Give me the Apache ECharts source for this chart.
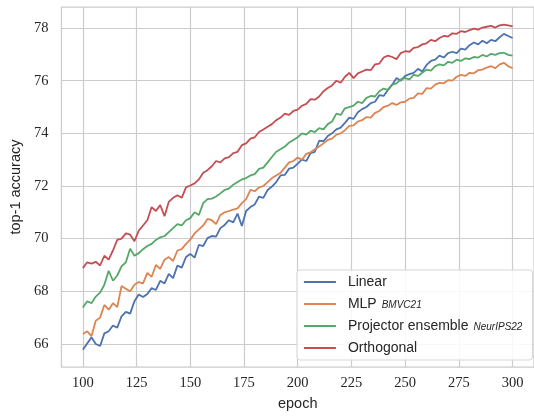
<!DOCTYPE html>
<html>
<head>
<meta charset="utf-8">
<script src="https://cdn.jsdelivr.net/npm/echarts@6/dist/echarts.min.js"></script>
<style>
    html, body { margin: 0; padding: 0; background: #fff; }
    #main { width: 534px; height: 416px; }
</style>
</head>
<body>
<div id="main"></div>
<script>
// epochs 100..300, every 2nd epoch
var epochs = [];
for (var e = 100; e <= 300; e += 2) epochs.push(e);

var xTicks = [100, 125, 150, 175, 200, 225, 250, 275, 300];
var yTicks = [66, 68, 70, 72, 74, 76, 78];

var seriesNames = ['Linear', 'MLP', 'Projector ensemble', 'Orthogonal'];
var seriesTags = ['', 'BMVC21', 'NeurIPS22', ''];
var seriesColors = ['#4C72B0', '#DD8452', '#55A868', '#C44E52'];

var linear = [
    65.78, 66.02, 66.25, 66.00, 65.92, 66.40, 66.48, 66.70, 66.62, 67.05,
    67.22, 67.15, 67.62, 67.88, 67.78, 67.90, 68.12, 68.05, 68.40, 68.30,
    68.66, 68.50, 68.98, 68.90, 69.30, 69.42, 69.28, 69.76, 69.72, 70.02,
    70.10, 70.08, 70.40, 70.52, 70.70, 70.62, 70.95, 70.48, 71.05, 71.20,
    71.30, 71.60, 71.55, 71.85, 71.98, 72.15, 72.40, 72.42, 72.66, 72.70,
    72.85, 73.00, 72.95, 73.25, 73.30, 73.72, 73.70, 73.90, 74.00, 74.15,
    74.22, 74.40, 74.60, 74.55, 74.80, 74.92, 75.00, 75.15, 75.20, 75.45,
    75.42, 75.65, 75.85, 76.10, 76.00, 76.18, 76.25, 76.30, 76.45, 76.35,
    76.60, 76.75, 76.80, 76.95, 76.88, 77.05, 77.10, 77.05, 77.22, 77.18,
    77.35, 77.45, 77.38, 77.52, 77.42, 77.55, 77.50, 77.65, 77.78, 77.70,
    77.62
];
var mlp = [
    66.38, 66.48, 66.30, 66.88, 67.00, 67.48, 67.30, 67.55, 67.40, 68.20,
    68.10, 68.00, 68.25, 68.35, 68.30, 68.70, 68.55, 69.00, 68.85, 69.20,
    69.30, 69.15, 69.55, 69.60, 69.80, 69.96, 70.20, 70.35, 70.50, 70.75,
    70.70, 70.55, 70.90, 71.00, 71.05, 71.10, 71.15, 71.35, 71.50, 71.85,
    71.80, 71.95, 72.00, 72.15, 72.30, 72.40, 72.50, 72.70, 72.90, 72.95,
    73.08, 73.00, 73.22, 73.28, 73.40, 73.50, 73.62, 73.75, 73.80, 73.95,
    74.00, 74.12, 74.28, 74.30, 74.45, 74.50, 74.62, 74.60, 74.78, 74.85,
    75.00, 75.05, 75.15, 75.08, 75.18, 75.20, 75.32, 75.35, 75.52, 75.50,
    75.72, 75.70, 75.85, 75.92, 75.90, 76.02, 76.00, 76.15, 76.22, 76.18,
    76.30, 76.28, 76.40, 76.42, 76.50, 76.55, 76.48, 76.62, 76.68, 76.55,
    76.48
];
var projector = [
    67.38, 67.62, 67.55, 67.80, 67.95, 68.25, 68.78, 68.40, 68.60, 68.95,
    69.10, 69.62, 69.35, 69.45, 69.60, 69.72, 69.80, 69.95, 70.05, 70.10,
    70.25, 70.40, 70.55, 70.50, 70.70, 70.78, 71.00, 70.90, 71.35, 71.50,
    71.52, 71.60, 71.72, 71.85, 71.90, 72.05, 72.15, 72.25, 72.30, 72.40,
    72.45, 72.65, 72.70, 72.90, 73.10, 73.30, 73.40, 73.50, 73.65, 73.75,
    73.85, 74.00, 73.95, 74.10, 74.05, 74.20, 74.15, 74.35, 74.45, 74.75,
    74.70, 74.95, 75.00, 75.05, 75.20, 75.15, 75.35, 75.42, 75.40, 75.60,
    75.70, 75.65, 75.85, 75.90, 76.05, 76.10, 76.05, 76.22, 76.18, 76.30,
    76.42, 76.38, 76.55, 76.62, 76.58, 76.72, 76.68, 76.80, 76.75, 76.85,
    76.82, 76.90, 76.88, 76.98, 76.92, 77.02, 76.98, 77.05, 77.06, 76.98,
    76.95
];
var orthogonal = [
    68.88, 69.10, 69.05, 69.12, 68.98, 69.35, 69.20, 69.55, 69.95, 70.00,
    70.20, 70.15, 69.90, 70.30, 70.50, 70.70, 71.20, 71.05, 71.28, 70.85,
    71.40, 71.55, 71.65, 71.55, 71.95, 72.02, 72.10, 72.25, 72.50, 72.60,
    72.75, 72.95, 72.90, 73.05, 73.10, 73.25, 73.30, 73.55, 73.62, 73.80,
    73.85, 74.05, 74.15, 74.25, 74.35, 74.50, 74.60, 74.75, 74.70, 74.85,
    74.90, 75.05, 75.12, 75.30, 75.28, 75.40, 75.60, 75.72, 75.82, 76.00,
    75.92, 76.15, 76.30, 76.10, 76.28, 76.35, 76.42, 76.40, 76.62, 76.65,
    76.88, 76.95, 76.90, 76.82, 77.05, 77.12, 77.10, 77.25, 77.28, 77.38,
    77.42, 77.55, 77.50, 77.62, 77.70, 77.68, 77.80, 77.78, 77.88, 77.85,
    77.92, 77.98, 77.94, 78.02, 78.05, 78.08, 78.02, 78.10, 78.13, 78.10,
    78.06
];
var values = [linear, mlp, projector, orthogonal];

var myChart = echarts.init(document.getElementById('main'));

var series = seriesNames.map(function (name, i) {
    return {
        name: name,
        type: 'line',
        symbol: 'none',
        lineStyle: { width: 1.8, color: seriesColors[i] },
        itemStyle: { color: seriesColors[i] },
        data: epochs.map(function (ep, j) { return [ep, values[i][j]]; })
    };
});

var option = {
    animation: false,
    backgroundColor: '#fff',
    grid: {
        left: 57, top: 7, width: 485, height: 363,
        show: true, borderColor: '#cccccc', borderWidth: 1.25,
        backgroundColor: '#fff'
    },
    xAxis: {
        type: 'value', min: 90, max: 310,
        name: 'epoch', nameLocation: 'middle', nameGap: 28,
        nameTextStyle: { fontFamily: 'Liberation Sans', fontSize: 14.5, color: '#262626' },
        axisLine: { show: false },
        axisTick: { show: false, customValues: xTicks },
        axisLabel: {
            customValues: xTicks, margin: 9,
            fontFamily: 'Liberation Serif', fontSize: 14.5, color: '#262626'
        },
        splitLine: { show: true, lineStyle: { color: '#cccccc', width: 1.2 } }
    },
    yAxis: {
        type: 'value', min: 65.12, max: 78.8,
        name: 'top-1 accuracy', nameLocation: 'middle', nameGap: 33,
        nameTextStyle: { fontFamily: 'Liberation Sans', fontSize: 14.5, color: '#262626' },
        axisLine: { show: false },
        axisTick: { show: false, customValues: yTicks },
        axisLabel: {
            customValues: yTicks, margin: 13,
            fontFamily: 'Liberation Serif', fontSize: 14.5, color: '#262626'
        },
        splitLine: { show: true, lineStyle: { color: '#cccccc', width: 1.2 } }
    },
    legend: {
        orient: 'vertical', left: 297, top: 270,
        padding: [5, 10, 5, 6],
        itemWidth: 32, itemHeight: 14, itemGap: 8,
        itemStyle: { opacity: 0 },
        lineStyle: { width: 1.8 },
        backgroundColor: 'rgba(255,255,255,0.85)',
        borderColor: '#d6d6d6', borderWidth: 1, borderRadius: 3,
        data: seriesNames,
        formatter: function (name) {
            var tag = seriesTags[seriesNames.indexOf(name)];
            return tag ? name + '{tag|' + tag + '}' : name;
        },
        textStyle: {
            fontFamily: 'Liberation Sans', fontSize: 14, color: '#262626',
            padding: [0, 0, 0, 7],
            rich: {
                tag: { fontFamily: 'Liberation Sans', fontStyle: 'italic', fontSize: 10, color: '#262626', padding: [2, 0, 0, 5] }
            }
        }
    },
    series: series
};

myChart.setOption(option);
</script>
</body>
</html>
